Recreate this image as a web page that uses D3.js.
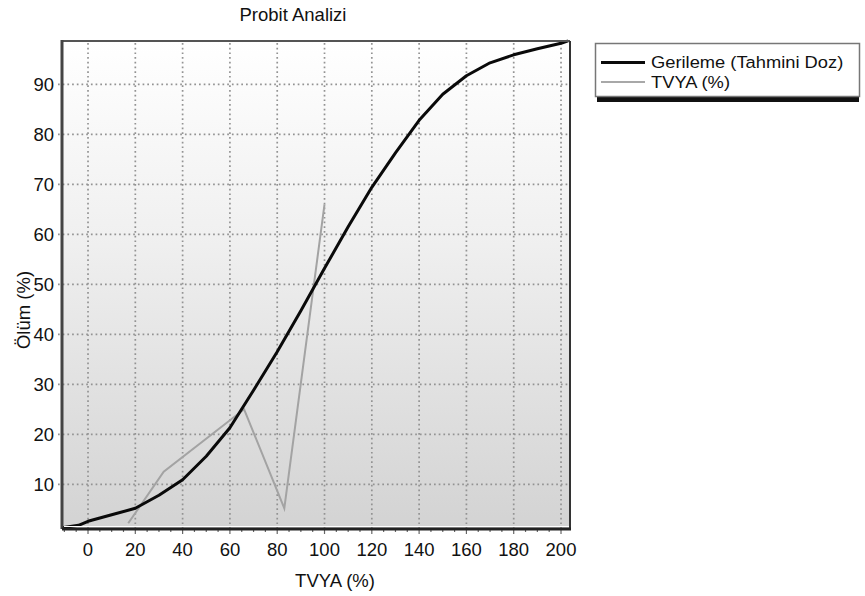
<!DOCTYPE html>
<html><head><meta charset="utf-8">
<script src="https://cdn.jsdelivr.net/npm/d3@7"></script>
<style>
html,body{margin:0;padding:0;background:#fff;}
svg text{font-family:"Liberation Sans",Arial,Helvetica,sans-serif;fill:#111;}
</style></head>
<body>
<svg id="c" width="865" height="596"></svg>
<script>
// ---- data ----
const chartTitle = "Probit Analizi";
const xTitle = "TVYA (%)";
const yTitle = "Ölüm (%)";
const seriesNames = ["Gerileme (Tahmini Doz)", "TVYA (%)"];
const xTicks = [0, 20, 40, 60, 80, 100, 120, 140, 160, 180, 200];
const yTicks = [10, 20, 30, 40, 50, 60, 70, 80, 90];
const regX = [-11, -4, 0, 10, 20, 30, 40, 50, 60, 70, 80, 90, 100, 110, 120, 130, 140, 150, 160, 170, 180, 190, 200, 203];
const regY = [1.3, 1.8, 2.6, 3.9, 5.2, 7.8, 10.9, 15.6, 21.3, 28.8, 36.5, 44.7, 53.2, 61.5, 69.4, 76.3, 82.8, 88.0, 91.7, 94.3, 95.9, 97.1, 98.2, 98.7];
const tvyaX = [17, 32, 66, 83, 100];
const tvyaY = [2.2, 12.5, 25, 5.2, 66];

// ---- layout ----
const svg = d3.select("#c");
const L = 62, R = 570, T = 41, B = 528;
const x = d3.scaleLinear().domain([-11, 203.8]).range([L, R]);
const y = d3.scaleLinear().domain([1.26, 98.66]).range([B, T]);
const FS = 18.5;

const defs = svg.append("defs");
const grad = defs.append("linearGradient").attr("id", "bg").attr("x1", 0).attr("x2", 0).attr("y1", 0).attr("y2", 1);
grad.append("stop").attr("offset", "0%").attr("stop-color", "#ffffff");
grad.append("stop").attr("offset", "40%").attr("stop-color", "#f0f0f0");
grad.append("stop").attr("offset", "100%").attr("stop-color", "#d3d3d3");
defs.append("clipPath").attr("id", "clip").append("rect").attr("x", L).attr("y", T).attr("width", R - L).attr("height", B - T);

svg.append("rect").attr("x", L).attr("y", T).attr("width", R - L).attr("height", B - T).attr("fill", "url(#bg)");

// grid
const grid = svg.append("g").attr("stroke", "#939393").attr("stroke-width", 1.7).attr("stroke-dasharray", "1.7,3");
grid.selectAll("line.v").data(xTicks).join("line")
  .attr("x1", d => x(d)).attr("x2", d => x(d)).attr("y1", T + 2).attr("y2", B);
grid.selectAll("line.h").data(yTicks).join("line")
  .attr("x1", L - 4).attr("x2", R).attr("y1", d => y(d)).attr("y2", d => y(d));

// x axis ticks (major + minor)
const minor = d3.range(-10, 205, 5);
svg.append("g").selectAll("line").data(minor).join("line")
  .attr("x1", d => x(d)).attr("x2", d => x(d))
  .attr("y1", B + 1).attr("y2", d => B + (d % 20 === 0 ? 6 : 4))
  .attr("stroke", "#666").attr("stroke-width", 1.2);

// lines
const lineGen = d3.line().x(d => x(d[0])).y(d => y(d[1]));
const gp = svg.append("g").attr("clip-path", "url(#clip)");
gp.append("path").datum(tvyaX.map((v, i) => [v, tvyaY[i]]))
  .attr("d", lineGen).attr("fill", "none").attr("stroke", "#a3a3a3").attr("stroke-width", 2);
svg.append("path").datum(regX.map((v, i) => [v, regY[i]]))
  .attr("d", lineGen).attr("fill", "none").attr("stroke", "#0a0a0a").attr("stroke-width", 3).attr("stroke-linejoin", "round");

// frame
svg.append("line").attr("x1", L).attr("x2", R).attr("y1", T).attr("y2", T).attr("stroke", "#555").attr("stroke-width", 2);
svg.append("line").attr("x1", R).attr("x2", R).attr("y1", T).attr("y2", B).attr("stroke", "#333").attr("stroke-width", 2);
svg.append("line").attr("x1", L).attr("x2", L).attr("y1", T - 1).attr("y2", B + 1).attr("stroke", "#444").attr("stroke-width", 3);
svg.append("line").attr("x1", L).attr("x2", R + 1).attr("y1", B + 1).attr("y2", B + 1).attr("stroke", "#222").attr("stroke-width", 3);
svg.append("line").attr("x1", L + 2).attr("x2", R - 1).attr("y1", B - 1.5).attr("y2", B - 1.5).attr("stroke", "#fff").attr("stroke-width", 1);

// tick labels
svg.append("g").selectAll("text").data(xTicks).join("text")
  .attr("x", d => x(d)).attr("y", 556).attr("text-anchor", "middle").attr("font-size", FS).text(d => d);
svg.append("g").selectAll("text").data(yTicks).join("text")
  .attr("x", 54).attr("y", d => y(d) + 6.7).attr("text-anchor", "end").attr("font-size", FS).text(d => d);

// titles
svg.append("text").attr("x", 293).attr("y", 21).attr("text-anchor", "middle").attr("font-size", FS).text(chartTitle);
svg.append("text").attr("x", 335).attr("y", 587).attr("text-anchor", "middle").attr("font-size", FS).text(xTitle);
svg.append("text").attr("transform", "translate(30,310) rotate(-90)").attr("text-anchor", "middle").attr("font-size", FS).text(yTitle);

// legend
const lg = svg.append("g");
lg.append("rect").attr("x", 597).attr("y", 96).attr("width", 262).attr("height", 6).attr("fill", "#111");
lg.append("rect").attr("x", 595.5).attr("y", 43.5).attr("width", 264).attr("height", 53).attr("fill", "#fff").attr("stroke", "#777").attr("stroke-width", 1.5);
const items = [{c: "#0a0a0a", w: 3, ty: 62.5}, {c: "#a8a8a8", w: 2, ty: 82}];
seriesNames.forEach((n, i) => {
  lg.append("line").attr("x1", 601).attr("x2", 645).attr("y1", items[i].ty).attr("y2", items[i].ty)
    .attr("stroke", items[i].c).attr("stroke-width", items[i].w);
  lg.append("text").attr("transform", `translate(651,${items[i].ty + 5.8}) scale(1.11,1)`)
    .attr("font-size", 16.5).text(n);
});
</script>
</body></html>
